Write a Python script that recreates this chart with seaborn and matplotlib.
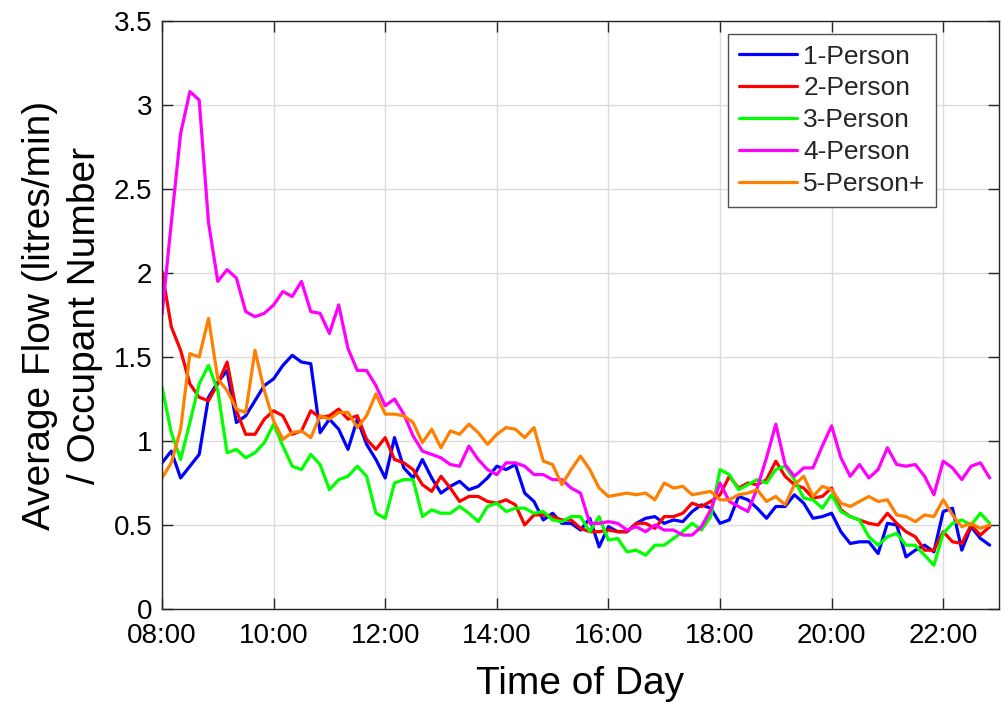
import numpy as np
import pandas as pd
import matplotlib
matplotlib.use("Agg")
import matplotlib.pyplot as plt
import seaborn as sns

# ---- data (10-minute steps from 08:00 to 22:50) ----
start_hour = 8.0
step_minutes = 10

person1 = [0.87, 0.94, 0.78, 0.85, 0.92, 1.26, 1.35, 1.42, 1.11, 1.15,
           1.24, 1.33, 1.37, 1.45, 1.51, 1.47, 1.46, 1.05, 1.13, 1.07,
           0.95, 1.13, 0.98, 0.89, 0.78, 1.02, 0.84, 0.78, 0.89, 0.78,
           0.69, 0.73, 0.76, 0.71, 0.73, 0.78, 0.85, 0.83, 0.86, 0.69,
           0.64, 0.53, 0.57, 0.51, 0.51, 0.47, 0.54, 0.37, 0.49, 0.46,
           0.46, 0.51, 0.54, 0.55, 0.51, 0.53, 0.52, 0.58, 0.62, 0.60,
           0.51, 0.53, 0.67, 0.65, 0.60, 0.54, 0.61, 0.61, 0.68, 0.63,
           0.54, 0.55, 0.57, 0.46, 0.39, 0.40, 0.40, 0.33, 0.51, 0.50,
           0.31, 0.35, 0.38, 0.34, 0.58, 0.60, 0.35, 0.49, 0.42, 0.38]

person2 = [2.01, 1.68, 1.54, 1.34, 1.26, 1.24, 1.34, 1.47, 1.18, 1.04,
           1.04, 1.13, 1.18, 1.15, 1.04, 1.06, 1.18, 1.14, 1.15, 1.19,
           1.13, 1.15, 1.01, 0.95, 1.02, 0.89, 0.87, 0.83, 0.74, 0.70,
           0.79, 0.72, 0.64, 0.67, 0.67, 0.64, 0.63, 0.65, 0.62, 0.50,
           0.56, 0.56, 0.55, 0.53, 0.53, 0.48, 0.46, 0.46, 0.47, 0.46,
           0.46, 0.51, 0.51, 0.48, 0.55, 0.55, 0.57, 0.63, 0.61, 0.64,
           0.68, 0.79, 0.72, 0.75, 0.74, 0.77, 0.88, 0.79, 0.74, 0.72,
           0.66, 0.67, 0.72, 0.59, 0.55, 0.53, 0.51, 0.50, 0.57, 0.51,
           0.46, 0.43, 0.35, 0.35, 0.46, 0.40, 0.39, 0.50, 0.44, 0.49]

person3 = [1.32, 1.05, 0.89, 1.11, 1.34, 1.45, 1.30, 0.93, 0.95, 0.90,
           0.93, 0.99, 1.10, 0.97, 0.85, 0.83, 0.92, 0.86, 0.71, 0.77,
           0.79, 0.85, 0.79, 0.57, 0.54, 0.75, 0.77, 0.77, 0.55, 0.59,
           0.57, 0.57, 0.61, 0.57, 0.52, 0.61, 0.63, 0.58, 0.60, 0.60,
           0.57, 0.58, 0.53, 0.52, 0.55, 0.55, 0.46, 0.55, 0.41, 0.42,
           0.34, 0.35, 0.32, 0.38, 0.38, 0.42, 0.46, 0.51, 0.47, 0.55,
           0.83, 0.80, 0.71, 0.74, 0.77, 0.75, 0.83, 0.85, 0.77, 0.66,
           0.65, 0.60, 0.68, 0.58, 0.55, 0.53, 0.43, 0.38, 0.43, 0.45,
           0.38, 0.38, 0.32, 0.26, 0.45, 0.51, 0.53, 0.50, 0.57, 0.51]

person4 = [1.75, 2.30, 2.83, 3.08, 3.03, 2.30, 1.95, 2.02, 1.97, 1.77,
           1.74, 1.76, 1.81, 1.89, 1.86, 1.95, 1.77, 1.76, 1.64, 1.81,
           1.55, 1.42, 1.42, 1.33, 1.21, 1.25, 1.16, 1.03, 0.94, 0.92,
           0.90, 0.86, 0.85, 0.97, 0.89, 0.83, 0.80, 0.87, 0.87, 0.85,
           0.80, 0.80, 0.77, 0.77, 0.72, 0.69, 0.51, 0.51, 0.52, 0.51,
           0.47, 0.49, 0.46, 0.50, 0.47, 0.47, 0.44, 0.44, 0.49, 0.59,
           0.75, 0.64, 0.61, 0.58, 0.72, 0.90, 1.10, 0.86, 0.79, 0.84,
           0.84, 0.97, 1.09, 0.90, 0.79, 0.86, 0.78, 0.83, 0.96, 0.86,
           0.85, 0.86, 0.79, 0.68, 0.88, 0.84, 0.77, 0.85, 0.87, 0.78]

person5 = [0.78, 0.87, 1.07, 1.52, 1.50, 1.73, 1.37, 1.30, 1.19, 1.17,
           1.54, 1.30, 1.12, 1.01, 1.05, 1.06, 1.02, 1.15, 1.13, 1.17,
           1.17, 1.08, 1.15, 1.28, 1.16, 1.16, 1.15, 1.11, 0.99, 1.07,
           0.96, 1.06, 1.04, 1.10, 1.05, 0.98, 1.04, 1.08, 1.07, 1.02,
           1.08, 0.88, 0.86, 0.74, 0.83, 0.91, 0.83, 0.72, 0.67, 0.68,
           0.69, 0.68, 0.69, 0.65, 0.75, 0.72, 0.73, 0.68, 0.69, 0.70,
           0.65, 0.65, 0.68, 0.69, 0.71, 0.64, 0.67, 0.62, 0.74, 0.79,
           0.67, 0.73, 0.71, 0.63, 0.61, 0.64, 0.67, 0.64, 0.65, 0.56,
           0.55, 0.52, 0.56, 0.55, 0.65, 0.56, 0.49, 0.51, 0.48, 0.50]

series_names = ["1-Person", "2-Person", "3-Person", "4-Person", "5-Person+"]
series_colors = ["#0000ff", "#ff0000", "#00ff00", "#ff00ff", "#ff8000"]

x_tick_hours = [8, 10, 12, 14, 16, 18, 20, 22]
x_tick_labels = ["08:00", "10:00", "12:00", "14:00", "16:00", "18:00", "20:00", "22:00"]
y_ticks = [0, 0.5, 1, 1.5, 2, 2.5, 3, 3.5]
y_tick_labels = ["0", "0.5", "1", "1.5", "2", "2.5", "3", "3.5"]

# ---- build long-form table ----
n = len(person1)
hours = [start_hour + k * step_minutes / 60.0 for k in range(n)]
frames = []
for name, vals in zip(series_names, [person1, person2, person3, person4, person5]):
    frames.append(pd.DataFrame({"hour": hours, "flow": vals, "group": name}))
df = pd.concat(frames, ignore_index=True)

# ---- plotting ----
sns.set_theme(style="ticks")
plt.rcParams["font.family"] = ["Liberation Sans", "DejaVu Sans"]

fig = plt.figure(figsize=(10.05, 7.02), dpi=100)
ax = fig.add_axes([162 / 1005, 93 / 702, 837 / 1005, 588 / 702])

sns.lineplot(data=df, x="hour", y="flow", hue="group", hue_order=series_names,
             palette=dict(zip(series_names, series_colors)), linewidth=2.3,
             ax=ax, legend=True)

ax.set_xlim(8, 23)
ax.set_ylim(0, 3.5)
ax.set_xticks(x_tick_hours)
ax.set_xticklabels(x_tick_labels)
ax.set_yticks(y_ticks)
ax.set_yticklabels(y_tick_labels)

ax.grid(True, color="#dcdcdc", linewidth=1.0)
ax.set_axisbelow(True)
for side in ["top", "right", "bottom", "left"]:
    ax.spines[side].set_visible(True)
    ax.spines[side].set_color("#262626")
    ax.spines[side].set_linewidth(1.0)
ax.tick_params(axis="both", which="major", direction="in", length=8, width=1.0,
               colors="#262626", labelcolor="black", labelsize=20,
               top=True, right=True)
ax.tick_params(axis="x", pad=10)
ax.tick_params(axis="y", pad=7)

ax.set_xlabel("Time of Day", fontsize=28, color="black", labelpad=12)
ax.set_ylabel("Average Flow (litres/min)\n/ Occupant Number", fontsize=28,
              color="black", labelpad=8, linespacing=1.3)

handles, labels = ax.get_legend_handles_labels()
leg = ax.legend(handles, labels, loc="upper right",
                bbox_to_anchor=((936 - 162) / 837, (609 - 34) / 588),
                borderaxespad=0, fontsize=19, frameon=True, fancybox=False,
                framealpha=1, edgecolor="#505050", handlelength=2.2,
                handletextpad=0.25, labelspacing=0.3, borderpad=0.4)
leg.get_frame().set_linewidth(1.0)
for line in leg.get_lines():
    line.set_linewidth(2.3)

fig.savefig("out.png", dpi=100)
